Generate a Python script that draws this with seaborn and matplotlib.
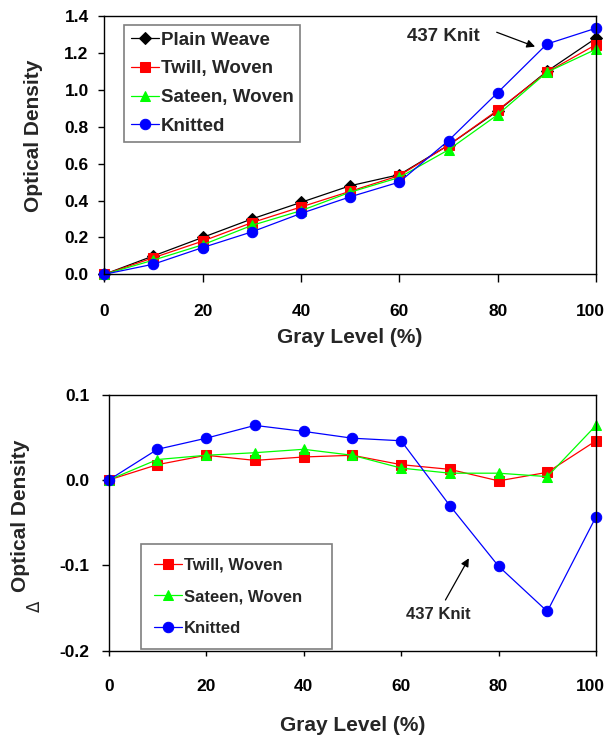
import matplotlib

matplotlib.use("Agg")
import matplotlib.pyplot as plt
import matplotlib.transforms as mtransforms
import pandas as pd
import seaborn as sns

GRAY_LEVEL = [0, 10, 20, 30, 40, 50, 60, 70, 80, 90, 100]

# optical density, top panel
PLAIN_OD = [0.0, 0.10, 0.20, 0.30, 0.39, 0.48, 0.54, 0.70, 0.885, 1.10, 1.28]
TWILL_OD = [0.0, 0.09, 0.18, 0.28, 0.365, 0.45, 0.535, 0.70, 0.89, 1.095, 1.245]
SATEEN_OD = [0.0, 0.077, 0.16, 0.265, 0.345, 0.445, 0.525, 0.675, 0.865, 1.095, 1.22]
KNIT_OD = [0.0, 0.055, 0.145, 0.23, 0.33, 0.42, 0.50, 0.725, 0.985, 1.248, 1.334]

# delta optical density, bottom panel
TWILL_DELTA = [0.0, 0.018, 0.029, 0.023, 0.027, 0.029, 0.018, 0.0125, -0.001, 0.009, 0.046]
SATEEN_DELTA = [0.0, 0.024, 0.029, 0.032, 0.036, 0.029, 0.014, 0.008, 0.008, 0.004, 0.064]
KNIT_DELTA = [0.0, 0.036, 0.049, 0.064, 0.057, 0.049, 0.046, -0.030, -0.101, -0.154, -0.043]

TOP_YTICKS = [0.0, 0.2, 0.4, 0.6, 0.8, 1.0, 1.2, 1.4]
BOTTOM_YTICKS = [-0.2, -0.1, 0.0, 0.1]
XTICKS = [0, 20, 40, 60, 80, 100]

STYLE = {
    "Plain Weave": dict(color="black", marker="D", markersize=6),
    "Twill, Woven": dict(color="#ff0000", marker="s", markersize=7),
    "Sateen, Woven": dict(color="#00ff00", marker="^", markersize=7.5),
    "Knitted": dict(color="#0000ff", marker="o", markersize=7.5),
}

sns.set_theme(style="ticks")
plt.rcParams["font.family"] = ["Liberation Sans", "DejaVu Sans"]
plt.rcParams["font.weight"] = "bold"
plt.rcParams["axes.labelweight"] = "bold"

top = pd.DataFrame({
    "gray": GRAY_LEVEL * 4,
    "od": PLAIN_OD + TWILL_OD + SATEEN_OD + KNIT_OD,
    "fabric": (["Plain Weave"] * 11 + ["Twill, Woven"] * 11
               + ["Sateen, Woven"] * 11 + ["Knitted"] * 11),
})
bottom = pd.DataFrame({
    "gray": GRAY_LEVEL * 3,
    "delta": TWILL_DELTA + SATEEN_DELTA + KNIT_DELTA,
    "fabric": ["Twill, Woven"] * 11 + ["Sateen, Woven"] * 11 + ["Knitted"] * 11,
})

fig = plt.figure(figsize=(6.09, 7.38), dpi=100)
ax1 = fig.add_axes([0.1713, 0.6283, 0.8074, 0.3500])
ax2 = fig.add_axes([0.1785, 0.1183, 0.8002, 0.3469])


def draw(ax, df, ycol):
    for name, grp in df.groupby("fabric", sort=False):
        st = STYLE[name]
        sns.lineplot(
            data=grp, x="gray", y=ycol, ax=ax, label=name,
            color=st["color"], marker=st["marker"], markersize=st["markersize"],
            markeredgecolor=st["color"], linewidth=0.9, clip_on=False,
        )


def style_axes(ax, ylim, yticks, xlen, ylen, xpad, ypad):
    ax.set_xlim(0, 100)
    ax.set_ylim(*ylim)
    ax.set_xticks(XTICKS)
    ax.set_xticklabels([str(t) for t in XTICKS])
    ax.set_yticks(yticks)
    ax.set_yticklabels([f"{t:.1f}" for t in yticks])
    for s in ax.spines.values():
        s.set_color("black")
        s.set_linewidth(1.0)
        s.set_visible(True)
    ax.tick_params(axis="x", direction="out", length=xlen, width=1, pad=xpad,
                   labelsize=12.5, colors="black")
    ax.tick_params(axis="y", direction="out", length=ylen, width=1, pad=ypad,
                   labelsize=12.5, colors="black")
    ax.grid(False)
    ax.set_xlabel("Gray Level (%)", fontsize=15, fontweight="bold")
    ax.set_ylabel("Optical Density", fontsize=15, fontweight="bold")
    # last tick label sits at the figure edge, nudge it in a little
    last = ax.get_xticklabels()[-1]
    last.set_transform(last.get_transform()
                       + mtransforms.ScaledTranslation(-4 / 72, 0, fig.dpi_scale_trans))


draw(ax1, top, "od")
style_axes(ax1, (0, 1.4), TOP_YTICKS, 5.8, 4.3, 15.5, 7)
ax1.xaxis.set_label_coords(0.5, -0.206)
ax1.yaxis.set_label_coords(-0.125, 0.535)
leg1 = ax1.legend(loc="upper left", bbox_to_anchor=(0.040, 0.965), frameon=True,
                  fancybox=False, framealpha=1, edgecolor="#7f7f7f",
                  prop={"size": 13.5, "weight": "bold"}, handlelength=1.5,
                  handletextpad=0.1, borderpad=0.35, labelspacing=0.62,
                  borderaxespad=0)
leg1.get_frame().set_linewidth(1.2)
ax1.text(61.5, 1.288, "437 Knit", fontsize=13.5, fontweight="bold",
         va="center", ha="left")
ax1.annotate("", xy=(87.6, 1.234), xytext=(79.8, 1.312),
             arrowprops=dict(arrowstyle="-|>", color="black", lw=0.9,
                             shrinkA=0, shrinkB=0, mutation_scale=12))

draw(ax2, bottom, "delta")
style_axes(ax2, (-0.2, 0.1), BOTTOM_YTICKS, 3.6, 5, 16.5, 9)
ax2.xaxis.set_label_coords(0.5, -0.255)
ax2.yaxis.set_label_coords(-0.1615, 0.526)
leg2 = ax2.legend(loc="lower left", bbox_to_anchor=(0.0658, 0.0066, 0.3926, 0.3),
                  mode="expand", frameon=True,
                  fancybox=False, framealpha=1, edgecolor="#7f7f7f",
                  prop={"size": 12, "weight": "bold"}, handlelength=1.7,
                  handletextpad=0.1, borderpad=0.8, labelspacing=1.0,
                  borderaxespad=0)
leg2.get_frame().set_linewidth(1.2)
ax2.text(61.1, -0.158, "437 Knit", fontsize=12, fontweight="bold",
         va="center", ha="left")
ax2.annotate("", xy=(73.9, -0.0917), xytext=(69.1, -0.1406),
             arrowprops=dict(arrowstyle="-|>", color="black", lw=0.9,
                             shrinkA=0, shrinkB=0, mutation_scale=12))
fig.text(35 / 609, 1 - 606 / 738, "\u0394", rotation=90, ha="center", va="center",
         fontsize=12, fontweight="normal", family="DejaVu Sans")

fig.savefig("out.png", dpi=100)
